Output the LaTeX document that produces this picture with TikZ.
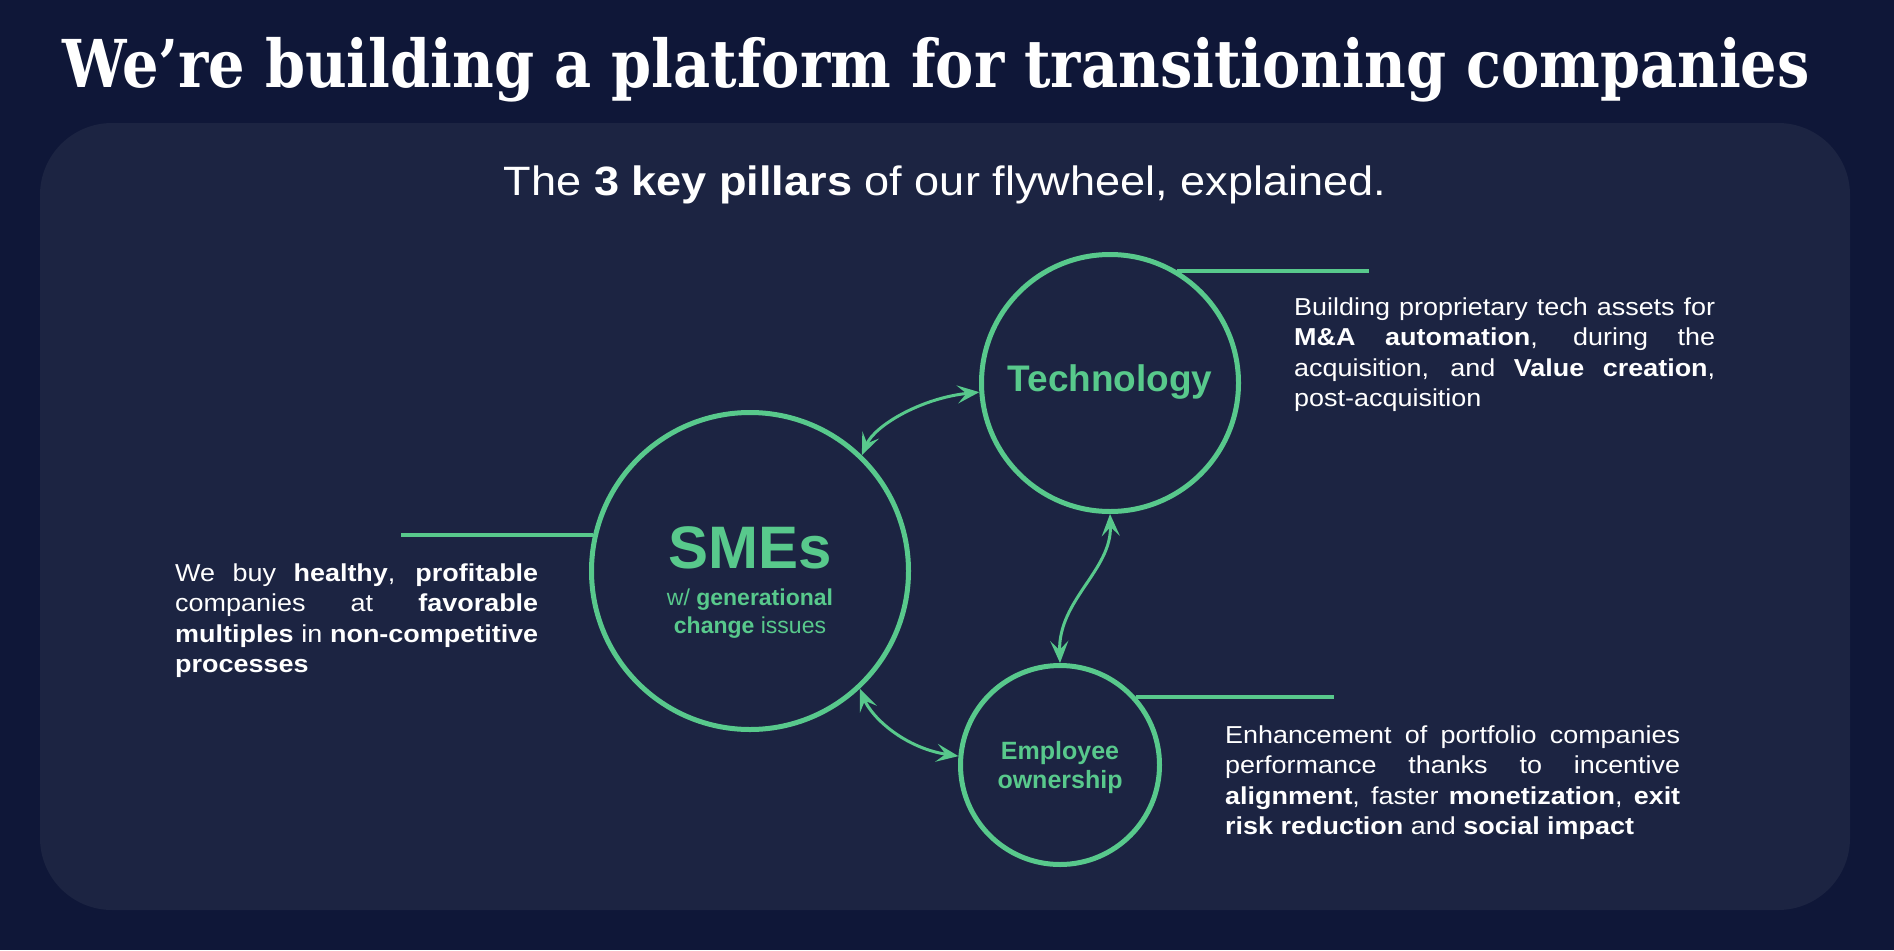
\documentclass[tikz,border=0pt]{standalone}
\usepackage{fontspec}
\setmainfont{Liberation Sans}
\newfontfamily\bodyfont{Liberation Sans}[FakeStretch=1.1]
\newfontfamily\titlefont{DejaVu Serif}
\usetikzlibrary{arrows.meta}
\definecolor{bgout}{RGB}{15,23,56}
\definecolor{panel}{RGB}{28,36,66}
\definecolor{mint}{RGB}{88,201,140}
\newcommand\bodysetup{\bodyfont\fontsize{24.5}{30.5}\selectfont\hyphenpenalty=10000\relax\exhyphenpenalty=10000\relax\tolerance=10000\relax\hbadness=10000\relax}
\begin{document}
\begin{tikzpicture}[x=1pt,y=-1pt,
  pillar/.style={circle,draw=mint,line width=5pt,inner sep=0pt,minimum size=#1},
  conn/.style={draw=mint,line width=3pt,{Stealth[length=22pt,width=18pt,inset=9pt]}-{Stealth[length=22pt,width=18pt,inset=9pt]}},
  leader/.style={draw=mint,line width=4pt},
  body/.style={text=white,text width=#1,align=justify,anchor=base west,inner sep=0pt,font=\bodysetup},
  lbl/.style={text=mint,anchor=base,inner sep=0pt},
]
\useasboundingbox (0,0) rectangle (1894,950);
\fill[bgout] (0,0) rectangle (1894,950);
\fill[panel,rounded corners=72pt] (40,123) rectangle (1850,910);

\node[anchor=base,text=white,inner sep=0pt] (title) at (936,87)
  {\scalebox{1}[1.15]{\resizebox{1747pt}{!}{\titlefont\bfseries We’re building a platform for transitioning companies}}};
\node[anchor=base,text=white,inner sep=0pt,font=\bodyfont\fontsize{41}{46}\selectfont] (sub) at (945,195)
  {The \textbf{3 key pillars} of our flywheel, explained.};

% circles
\node[pillar=317pt] (sme) at (750,571) {};
\node[pillar=257pt] (tech) at (1110,383) {};
\node[pillar=199pt] (emp) at (1060,765) {};

% circle labels
\node[lbl,font=\fontsize{60}{60}\selectfont\bfseries] (smet) at (750,568) {SMEs};
\node[lbl,font=\fontsize{23}{26}\selectfont] (smes1) at (750,605) {w/ \textbf{generational}};
\node[lbl,font=\fontsize{23}{26}\selectfont] (smes2) at (750,633) {\textbf{change} issues};
\node[lbl,font=\fontsize{37}{40}\selectfont\bfseries] (techt) at (1110,391) {Technology};
\node[lbl,font=\fontsize{25}{28}\selectfont\bfseries] (empt1) at (1060,759) {Employee};
\node[lbl,font=\fontsize{25}{28}\selectfont\bfseries] (empt2) at (1060,788) {ownership};

% connectors
\draw[conn] (sme.46) .. controls (875,425) and (922,398) .. (tech.184);
\draw[conn] (tech.270) .. controls (1112,570) and (1058,600) .. (emp.90);
\draw[conn] (sme.-47) .. controls (872,718) and (905,748) .. (emp.175);

% leaders
\coordinate (leftend) at (401,535);
\coordinate (techend) at (1369,271);
\coordinate (empend) at (1334,697);
\draw[leader] (leftend) -- (leftend -| sme.167);
\draw[leader] (tech.59) -- (tech.59 -| techend);
\draw[leader] (emp.42) -- (emp.42 -| empend);

% descriptions
\node[body=363pt] (ltext) at (175,581)
  {We buy \textbf{healthy}, \textbf{profitable}\linebreak companies at \textbf{favorable}\linebreak \textbf{multiples} in \textbf{non-competitive}\linebreak \textbf{processes}};
\node[body=421pt] (ttext) at (1294,315)
  {Building proprietary tech assets for\linebreak \textbf{M\&A automation}, during the\linebreak acquisition, and \textbf{Value creation},\linebreak post-acquisition};
\node[body=455pt] (etext) at (1225,743)
  {Enhancement of portfolio companies\linebreak performance thanks to incentive\linebreak \textbf{alignment}, faster \textbf{monetization}, \textbf{exit}\linebreak \textbf{risk reduction} and \textbf{social impact}};
\end{tikzpicture}
\end{document}
